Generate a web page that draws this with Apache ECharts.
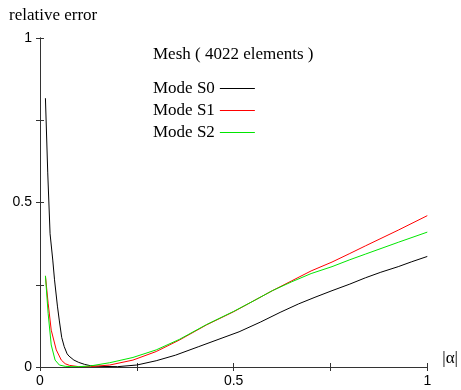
<!DOCTYPE html>
<html>
<head>
<meta charset="utf-8">
<script src="https://cdn.jsdelivr.net/npm/echarts@6/dist/echarts.min.js"></script>
<style>html,body{margin:0;padding:0;background:#fff;}#c{width:461px;height:390px;}</style>
</head>
<body>
<div id="c"></div>
<script>
const seriesNames = ['Mode S0', 'Mode S1', 'Mode S2'];
const xTickLabels = ['0', '0.5', '1'];
const yTickLabels = ['0', '0.5', '1'];

const s0x = [0.014, 0.02, 0.026, 0.033, 0.0375, 0.045, 0.05, 0.056, 0.0625, 0.07, 0.075, 0.0875, 0.1, 0.115, 0.13, 0.15, 0.2, 0.25, 0.3, 0.35, 0.41, 0.47, 0.514, 0.57, 0.62, 0.668, 0.71, 0.754, 0.8, 0.84, 0.88, 0.925, 0.96, 1.0];
const s0y = [0.817, 0.59, 0.405, 0.325, 0.265, 0.185, 0.14, 0.09, 0.062, 0.04, 0.033, 0.021, 0.014, 0.008, 0.004, 0.002, 0.001, 0.006, 0.019, 0.036, 0.062, 0.088, 0.107, 0.137, 0.166, 0.192, 0.212, 0.232, 0.252, 0.271, 0.288, 0.305, 0.32, 0.336];

const s1x = [0.014, 0.021, 0.029, 0.042, 0.055, 0.065, 0.076, 0.1, 0.13, 0.18, 0.24, 0.3, 0.36, 0.43, 0.5, 0.55, 0.6, 0.65, 0.7, 0.754, 0.8, 0.84, 0.925, 1.0];
const s1y = [0.277, 0.194, 0.112, 0.052, 0.021, 0.010, 0.005, 0.001, 0.001, 0.006, 0.021, 0.047, 0.082, 0.128, 0.168, 0.2, 0.232, 0.262, 0.292, 0.319, 0.345, 0.368, 0.416, 0.46];

const s2x = [0.014, 0.021, 0.029, 0.039, 0.05, 0.065, 0.08, 0.1, 0.129, 0.18, 0.24, 0.3, 0.36, 0.43, 0.5, 0.55, 0.6, 0.65, 0.7, 0.754, 0.8, 0.84, 0.925, 1.0];
const s2y = [0.277, 0.163, 0.067, 0.021, 0.006, 0.002, 0.001, 0.001, 0.003, 0.013, 0.029, 0.052, 0.084, 0.129, 0.169, 0.2, 0.232, 0.259, 0.284, 0.305, 0.326, 0.343, 0.379, 0.41];

const colors = ['#000000', '#ff0000', '#00e600'];

function pairs(xs, ys) { return xs.map((x, i) => [x, ys[i]]); }

const serif = '"Liberation Serif", "DejaVu Serif", serif';
const sans = '"Liberation Sans", Arial, sans-serif';
const axisLine = { show: true, lineStyle: { color: '#333', width: 1 } };
const tick = { show: true, inside: true, length: 4, lineStyle: { color: '#333', width: 1 } };

function labelFmt(list) {
  return function (v) {
    const s = String(Math.round(v * 100) / 100);
    return list.indexOf(s) >= 0 ? s : '';
  };
}

const chart = echarts.init(document.getElementById('c'));
chart.setOption({
  animation: false,
  backgroundColor: '#fff',
  title: [
    { text: 'relative error', left: 9, top: 7, textStyle: { fontFamily: serif, fontSize: 17, fontWeight: 'normal', color: '#000' }, padding: 0 },
    { text: 'Mesh ( 4022 elements )', left: 153, top: 46, textStyle: { fontFamily: serif, fontSize: 17, fontWeight: 'normal', color: '#000' }, padding: 0 }
  ],
  legend: {
    data: seriesNames.map(n => ({ name: n, icon: 'rect' })),
    orient: 'vertical',
    left: 153,
    top: 80,
    align: 'right',
    itemWidth: 35,
    itemHeight: 1,
    itemGap: 5,
    padding: 0,
    textStyle: { fontFamily: serif, fontSize: 17, color: '#000' }
  },
  grid: { left: 40, right: 32, top: 38, bottom: 23, containLabel: false },
  xAxis: [
    {
      type: 'value', min: 0, max: 1, interval: 0.25, position: 'bottom',
      name: '|α|', nameLocation: 'end', nameGap: 15,
      nameTextStyle: { fontFamily: serif, fontSize: 17, color: '#000', verticalAlign: 'bottom' },
      axisLine: axisLine, axisTick: tick, splitLine: { show: false },
      axisLabel: { formatter: labelFmt(xTickLabels), fontFamily: sans, fontSize: 14, color: '#000', margin: 7 }
    },
    {
      type: 'value', min: 0, max: 1, interval: 0.25, position: 'top',
      axisLine: axisLine, axisTick: tick, splitLine: { show: false }, axisLabel: { show: false }
    }
  ],
  yAxis: [
    {
      type: 'value', min: 0, max: 1, interval: 0.25, position: 'left',
      axisLine: axisLine, axisTick: tick, splitLine: { show: false },
      axisLabel: { formatter: labelFmt(yTickLabels), fontFamily: sans, fontSize: 14, color: '#000', margin: 8 }
    },
    {
      type: 'value', min: 0, max: 1, interval: 0.25, position: 'right',
      axisLine: axisLine, axisTick: tick, splitLine: { show: false }, axisLabel: { show: false }
    }
  ],
  series: [
    { name: seriesNames[0], type: 'line', symbol: 'none', data: pairs(s0x, s0y), lineStyle: { color: colors[0], width: 1 }, itemStyle: { color: colors[0] } },
    { name: seriesNames[1], type: 'line', symbol: 'none', data: pairs(s1x, s1y), lineStyle: { color: colors[1], width: 1 }, itemStyle: { color: colors[1] } },
    { name: seriesNames[2], type: 'line', symbol: 'none', data: pairs(s2x, s2y), lineStyle: { color: colors[2], width: 1 }, itemStyle: { color: colors[2] } }
  ]
});
</script>
</body>
</html>
